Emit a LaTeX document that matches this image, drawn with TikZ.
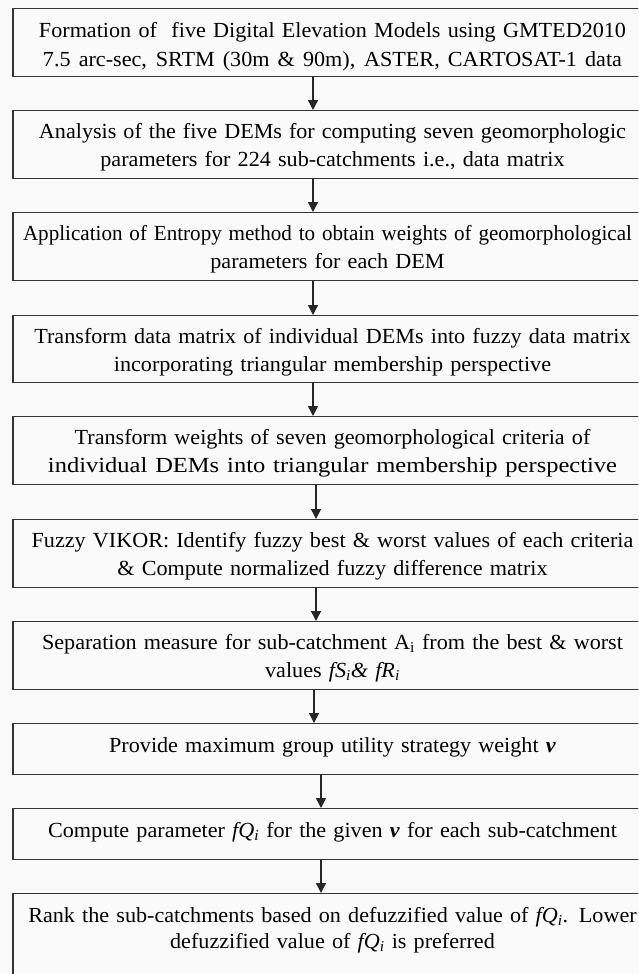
\documentclass[tikz,border=0pt]{standalone}
\usepackage{fontspec}
\setmainfont{Liberation Serif}[FakeStretch=1.03]
\usepackage{graphicx}
\usetikzlibrary{arrows.meta}
\newcommand{\sub}[1]{\textsubscript{#1}}
\newcommand{\jline}[2]{\leavevmode\hbox to #1{\spaceskip=0.25em plus 1fil\relax #2}}
\newcommand{\fitw}[2]{\leavevmode\resizebox{#1}{\height}{#2}}
\begin{document}
\begin{tikzpicture}[x=1pt,y=-1pt,
  box/.style={draw=black!80, line width=1.4pt, minimum width=639pt, inner sep=0pt, anchor=north},
  txt/.style={font=\fontsize{21.5}{28}\selectfont, align=center, text width=636pt, inner sep=0pt, anchor=base},
  arr/.style={draw=black!85, line width=1.4pt, -{Triangle[length=10pt,width=10pt]}}]
\useasboundingbox (0,0) rectangle (638,974);
\clip (0,0) rectangle (638,974);
\fill[white!98!black] (0,0) rectangle (638,974);
\node[box, minimum height=68pt] (b1) at (332.5,8) {};
\node[txt, font=\fontsize{21.5}{29}\selectfont] (t1) at ([yshift=-29.7pt]b1.north) {\jline{587pt}{Formation of\ \ five Digital Elevation Models using GMTED2010}\\\jline{579pt}{7.5 arc-sec, SRTM (30m \& 90m), ASTER, CARTOSAT-1 data}};
\node[box, minimum height=68pt] (b2) at (332.5,110) {};
\node[txt] (t2) at ([yshift=-28.5pt]b2.north) {\jline{587pt}{Analysis of the five DEMs for computing seven geomorphologic}\\parameters for 224 sub-catchments i.e., data matrix};
\node[box, minimum height=68pt] (b3) at (332.5,212) {};
\node[txt] (t3) at ([yshift=-28.5pt,xshift=-5pt]b3.north) {\fitw{609pt}{Application of Entropy method to obtain weights of geomorphological}\\parameters for each DEM};
\node[box, minimum height=67pt] (b4) at (332.5,315) {};
\node[txt] (t4) at ([yshift=-28pt]b4.north) {Transform data matrix of individual DEMs into fuzzy data matrix\\incorporating triangular membership perspective};
\node[box, minimum height=68pt] (b5) at (332.5,416) {};
\node[txt] (t5) at ([yshift=-28.5pt]b5.north) {Transform weights of seven geomorphological criteria of\\\fitw{569pt}{individual DEMs into triangular membership perspective}};
\node[box, minimum height=68pt] (b6) at (332.5,519) {};
\node[txt] (t6) at ([yshift=-28.5pt]b6.north) {Fuzzy VIKOR: Identify fuzzy best \& worst values of each criteria\\\& Compute normalized fuzzy difference matrix};
\node[box, minimum height=68pt] (b7) at (332.5,621) {};
\node[txt] (t7) at ([yshift=-28.5pt]b7.north) {Separation measure for sub-catchment A\sub{i} from the best \& worst\\values \textit{fS\sub{i}\& fR\sub{i}}};
\node[box, minimum height=51pt] (b8) at (332.5,723) {};
\node[txt] (t8) at ([yshift=-29pt]b8.north) {Provide maximum group utility strategy weight \textbf{\textit{v}}};
\node[box, minimum height=51pt] (b9) at (332.5,808) {};
\node[txt] (t9) at ([yshift=-29pt]b9.north) {Compute parameter \textit{fQ\sub{i}} for the given \textbf{\textit{v}} for each sub-catchment};
\node[box, minimum height=110pt] (b10) at (332.5,893) {};
\node[txt, font=\fontsize{21.5}{26}\selectfont] (t10) at ([yshift=-29pt]b10.north) {Rank the sub-catchments based on defuzzified value of \textit{fQ\sub{i}}. Lower\\defuzzified value of \textit{fQ\sub{i}} is preferred};
\draw[arr] ([xshift=-19.5pt]b1.south) -- ([xshift=-19.5pt]b2.north);
\draw[arr] ([xshift=-19.5pt]b2.south) -- ([xshift=-19.5pt]b3.north);
\draw[arr] ([xshift=-19.5pt]b3.south) -- ([xshift=-19.5pt]b4.north);
\draw[arr] ([xshift=-19.5pt]b4.south) -- ([xshift=-19.5pt]b5.north);
\draw[arr] ([xshift=-16.5pt]b5.south) -- ([xshift=-16.5pt]b6.north);
\draw[arr] ([xshift=-16.5pt]b6.south) -- ([xshift=-16.5pt]b7.north);
\draw[arr] ([xshift=-18.5pt]b7.south) -- ([xshift=-18.5pt]b8.north);
\draw[arr] ([xshift=-11.5pt]b8.south) -- ([xshift=-11.5pt]b9.north);
\draw[arr] ([xshift=-11.5pt]b9.south) -- ([xshift=-11.5pt]b10.north);
\end{tikzpicture}
\end{document}
